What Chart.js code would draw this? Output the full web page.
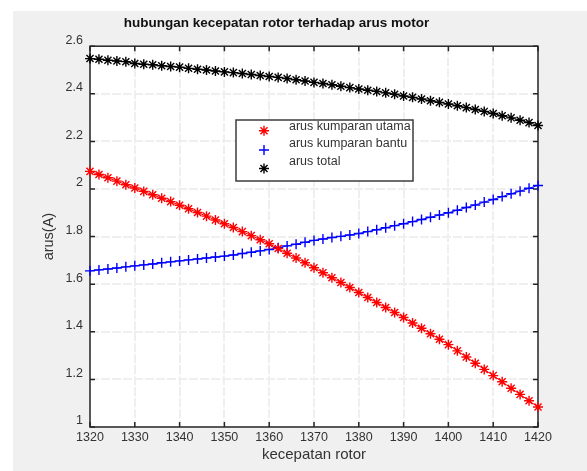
<!DOCTYPE html>
<html><head><meta charset="utf-8">
<script src="https://cdn.jsdelivr.net/npm/chart.js@4/dist/chart.umd.min.js"></script>
<style>html,body{margin:0;padding:0;background:#fff;}canvas{display:block;}</style>
</head><body>
<canvas id="c" width="587" height="471"></canvas>
<script>
const titleText = 'hubungan kecepatan rotor terhadap arus motor';
const xAxisTitle = 'kecepatan rotor';
const yAxisTitle = 'arus(A)';
const seriesNames = ['arus kumparan utama', 'arus kumparan bantu', 'arus total'];

const rotorSpeed = [1320,1322,1324,1326,1328,1330,1332,1334,1336,1338,1340,1342,1344,1346,1348,1350,1352,1354,1356,1358,1360,1362,1364,1366,1368,1370,1372,1374,1376,1378,1380,1382,1384,1386,1388,1390,1392,1394,1396,1398,1400,1402,1404,1406,1408,1410,1412,1414,1416,1418,1420];

const arusUtama = [2.074,2.061,2.047,2.033,2.018,2.004,1.990,1.976,1.961,1.947,1.932,1.917,1.901,1.886,1.870,1.854,1.838,1.821,1.804,1.787,1.770,1.750,1.730,1.710,1.690,1.669,1.648,1.627,1.607,1.586,1.565,1.544,1.523,1.502,1.481,1.460,1.437,1.415,1.392,1.369,1.346,1.320,1.294,1.268,1.242,1.216,1.190,1.163,1.137,1.110,1.084];

const arusBantu = [1.656,1.660,1.664,1.668,1.673,1.677,1.681,1.685,1.690,1.694,1.698,1.702,1.706,1.710,1.714,1.718,1.723,1.729,1.734,1.740,1.746,1.753,1.761,1.768,1.776,1.784,1.790,1.796,1.801,1.807,1.813,1.821,1.829,1.837,1.846,1.854,1.863,1.872,1.881,1.891,1.900,1.911,1.922,1.933,1.945,1.956,1.968,1.980,1.991,2.003,2.015];

const arusTotal = [2.548,2.545,2.541,2.538,2.535,2.527,2.524,2.522,2.518,2.515,2.512,2.507,2.503,2.500,2.496,2.492,2.489,2.485,2.481,2.477,2.473,2.469,2.464,2.459,2.454,2.448,2.443,2.438,2.432,2.426,2.420,2.415,2.410,2.404,2.398,2.391,2.385,2.378,2.371,2.364,2.357,2.350,2.342,2.334,2.326,2.317,2.308,2.299,2.289,2.279,2.267];

const xTickValues = [1320,1330,1340,1350,1360,1370,1380,1390,1400,1410,1420];
const yTickValues = [1,1.2,1.4,1.6,1.8,2,2.2,2.4,2.6];

const seriesColors = ['#ff0000', '#0000ff', '#000000'];
const seriesMarkers = ['star', 'cross', 'star'];
const FONT = "'Liberation Sans', Arial, sans-serif";

function pairs(ys) { return rotorSpeed.map((x, i) => ({x: x, y: ys[i]})); }

const datasets = [arusUtama, arusBantu, arusTotal].map((ys, i) => ({
  label: seriesNames[i],
  data: pairs(ys),
  borderColor: seriesColors[i],
  backgroundColor: seriesColors[i],
  borderWidth: 1,
  pointStyle: seriesMarkers[i],
  pointRadius: 5,
  pointBorderWidth: 1.4,
  pointBorderColor: seriesColors[i],
  tension: 0,
  fill: false,
  clip: false
}));

function drawMarker(ctx, style, x, y, r, color) {
  ctx.save();
  ctx.strokeStyle = color; ctx.lineWidth = 1.4;
  ctx.beginPath();
  ctx.moveTo(x - r, y); ctx.lineTo(x + r, y);
  ctx.moveTo(x, y - r); ctx.lineTo(x, y + r);
  if (style === 'star') {
    const d = r * Math.SQRT1_2;
    ctx.moveTo(x - d, y - d); ctx.lineTo(x + d, y + d);
    ctx.moveTo(x - d, y + d); ctx.lineTo(x + d, y - d);
  }
  ctx.stroke();
  ctx.restore();
}

const bgPlugin = {
  id: 'bg',
  beforeDraw(chart) {
    const {ctx, chartArea: a} = chart;
    ctx.save();
    ctx.fillStyle = '#ffffff';
    ctx.fillRect(0, 0, chart.width, chart.height);
    ctx.fillStyle = '#f0f0f0';
    ctx.fillRect(13, 11, chart.width - 13, chart.height - 11);
    ctx.fillStyle = '#ffffff';
    ctx.fillRect(a.left, a.top, a.right - a.left, a.bottom - a.top);
    ctx.restore();
  }
};

const framePlugin = {
  id: 'frame',
  beforeDatasetsDraw(chart) {
    const {ctx, chartArea: a, scales} = chart;
    const tl = 5;
    ctx.save();
    ctx.strokeStyle = '#262626';
    ctx.lineWidth = 1.5;
    ctx.strokeRect(a.left, a.top, a.right - a.left, a.bottom - a.top);
    ctx.beginPath();
    xTickValues.forEach(v => {
      const px = scales.x.getPixelForValue(v);
      ctx.moveTo(px, a.bottom); ctx.lineTo(px, a.bottom - tl);
      ctx.moveTo(px, a.top); ctx.lineTo(px, a.top + tl);
    });
    yTickValues.forEach(v => {
      const py = scales.y.getPixelForValue(v);
      ctx.moveTo(a.left, py); ctx.lineTo(a.left + tl, py);
      ctx.moveTo(a.right, py); ctx.lineTo(a.right - tl, py);
    });
    ctx.stroke();
    ctx.restore();
  }
};

const legendPlugin = {
  id: 'boxLegend',
  afterDraw(chart) {
    const ctx = chart.ctx;
    const bx = 236, by = 120, bw = 177, bh = 61;
    ctx.save();
    ctx.fillStyle = '#ffffff';
    ctx.fillRect(bx, by, bw, bh);
    ctx.strokeStyle = '#3c3c3c';
    ctx.lineWidth = 1.5;
    ctx.strokeRect(bx, by, bw, bh);
    const markerY = [130.7, 150, 168.5];
    const textY = [126.5, 143.5, 161.5];
    ctx.font = '12.5px ' + FONT;
    ctx.fillStyle = '#333333';
    ctx.textBaseline = 'middle';
    ctx.textAlign = 'left';
    chart.data.datasets.forEach((ds, i) => {
      drawMarker(ctx, seriesMarkers[i], 264, markerY[i], 5, seriesColors[i]);
      ctx.fillText(ds.label, 289, textY[i]);
    });
    ctx.restore();
  }
};

new Chart(document.getElementById('c'), {
  type: 'line',
  data: {datasets: datasets},
  options: {
    responsive: false,
    animation: false,
    devicePixelRatio: 1,
    layout: {padding: {left: 0, right: 34, top: 0, bottom: 0}},
    plugins: {
      legend: {display: false},
      tooltip: {enabled: false},
      title: {
        display: true,
        text: titleText,
        color: '#111111',
        font: {family: FONT, size: 13.5, weight: 'bold'},
        padding: {top: 15, bottom: 15}
      }
    },
    scales: {
      x: {
        type: 'linear',
        position: 'bottom',
        min: 1320, max: 1420,
        afterBuildTicks: s => { s.ticks = xTickValues.map(v => ({value: v})); },
        afterFit: s => { s.height = 44; },
        ticks: {
          color: '#333333', font: {family: FONT, size: 12.5}, padding: 3,
          maxRotation: 0, autoSkip: false, callback: v => String(v)
        },
        grid: {color: '#efefef', lineWidth: 2, drawTicks: false},
        border: {display: false, dash: [9, 2]},
        title: {display: true, text: xAxisTitle, color: '#333333',
                font: {family: FONT, size: 15}, padding: {top: 0, bottom: 7}}
      },
      y: {
        type: 'linear',
        position: 'left',
        min: 1, max: 2.6,
        afterBuildTicks: s => { s.ticks = yTickValues.map(v => ({value: v})); },
        afterFit: s => { s.width = 90; },
        ticks: {
          color: '#333333', font: {family: FONT, size: 12.5}, padding: 7,
          labelOffset: -6, autoSkip: false, callback: v => String(v)
        },
        grid: {color: '#efefef', lineWidth: 2, drawTicks: false},
        border: {display: false, dash: [9, 2]},
        title: {display: true, text: yAxisTitle, color: '#333333',
                font: {family: FONT, size: 14.5}, padding: {top: 40, bottom: 0}}
      },
      y2: {
        type: 'linear',
        position: 'right',
        min: 1, max: 2.6,
        afterFit: s => { s.width = 15; },
        ticks: {display: false},
        grid: {display: false, drawTicks: false},
        border: {display: false}
      }
    }
  },
  plugins: [bgPlugin, framePlugin, legendPlugin]
});
</script>
</body></html>
